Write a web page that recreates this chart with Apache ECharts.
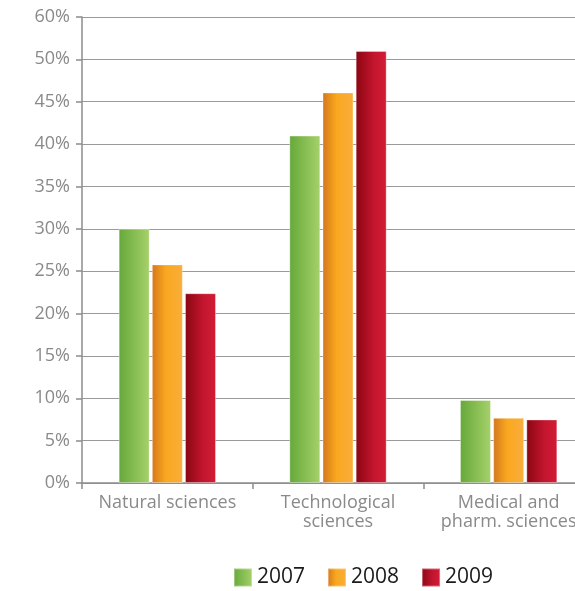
<!DOCTYPE html>
<html>
<head>
<meta charset="utf-8">
<script src="https://cdn.jsdelivr.net/npm/echarts@6/dist/echarts.min.js"></script>
<style>html,body{margin:0;padding:0;background:#fff;overflow:hidden;width:575px;height:591px}#c{width:596px;height:591px}</style>
</head>
<body>
<div id="c"></div>
<script>
const categories = ['Natural sciences', 'Technological\nsciences', 'Medical and\npharm. sciences'];
const years = ['2007', '2008', '2009'];
const values2007 = [30.0, 41.0, 9.8];
const values2008 = [25.8, 46.1, 7.7];
const values2009 = [22.4, 51.0, 7.5];
const yTickLabels = ['0%', '5%', '10%', '15%', '20%', '25%', '30%', '35%', '40%', '45%', '50%', '60%'];

function grad(stops) {
  return new echarts.graphic.LinearGradient(0, 0, 1, 0, stops.map((c) => ({offset: c[0], color: c[1]})));
}
const colors = [
  grad([[0, '#66a83a'], [1, '#a6d16b']]),
  grad([[0, '#d4761c'], [0.45, '#f9a81f'], [1, '#f9ae3d']]),
  grad([[0, '#8a0612'], [0.6, '#c4162f'], [1, '#d31c36']])
];
const seriesData = [values2007, values2008, values2009];

const chart = echarts.init(document.getElementById('c'), null, {renderer: 'canvas'});
chart.setOption({
  animation: false,
  grid: {left: 82, right: 2, top: 17, bottom: 108, containLabel: false},
  legend: {
    bottom: 3, left: 233, padding: 0,
    itemWidth: 18, itemHeight: 18, itemGap: 22,
    icon: 'rect',
    textStyle: {fontFamily: 'Open Sans', fontSize: 21, color: '#1a1a1a'},
    data: years
  },
  xAxis: {
    type: 'category',
    data: categories,
    axisLine: {lineStyle: {color: '#8c8c8c', width: 1.5}},
    axisTick: {show: true, length: 6, lineStyle: {color: '#8c8c8c', width: 1.5}},
    axisLabel: {fontFamily: 'Open Sans', fontSize: 18, color: '#8a8a8a', lineHeight: 19, margin: 10, interval: 0}
  },
  yAxis: {
    type: 'value',
    min: 0, max: 55, interval: 5,
    axisLine: {show: true, lineStyle: {color: '#8c8c8c', width: 1.5}},
    axisTick: {show: true, length: 6, lineStyle: {color: '#8c8c8c', width: 1.5}},
    splitLine: {lineStyle: {color: '#9a9a9a', width: 1.2}},
    axisLabel: {
      fontFamily: 'Open Sans', fontSize: 18, color: '#8a8a8a', margin: 12,
      formatter: (v) => yTickLabels[Math.round(v / 5)]
    }
  },
  series: years.map((y, i) => ({
    name: y,
    type: 'bar',
    data: seriesData[i],
    barWidth: 31,
    barGap: '7%',
    itemStyle: {color: colors[i], borderColor: 'rgba(255,255,255,0.35)', borderWidth: 1}
  }))
});
</script>
</body>
</html>
